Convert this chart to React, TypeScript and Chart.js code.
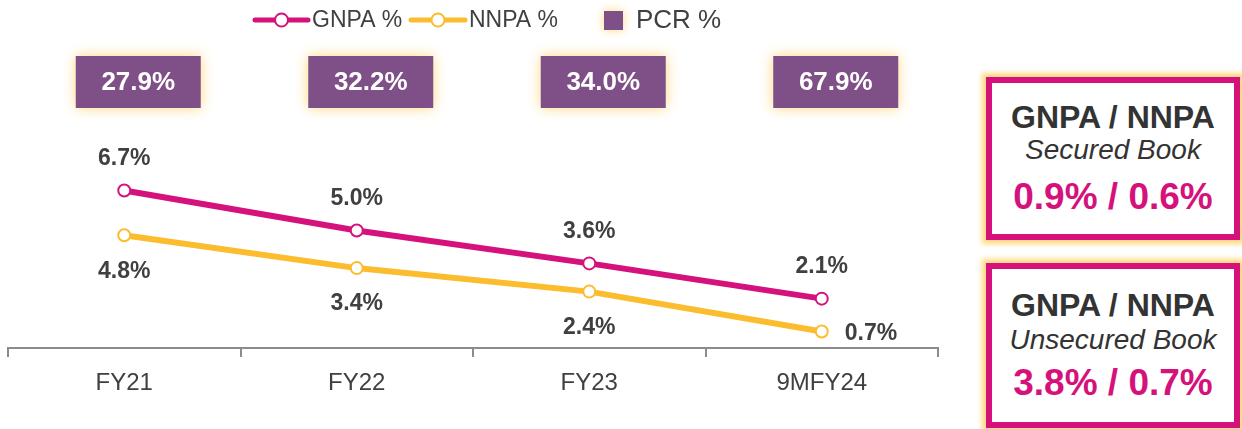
import React, { useEffect, useRef } from 'react';
import { Chart, registerables } from 'chart.js';

Chart.register(...registerables);

// ---- data ----
const categories = ['FY21', 'FY22', 'FY23', '9MFY24'];
const gnpa = [6.7, 5.0, 3.6, 2.1];
const nnpa = [4.8, 3.4, 2.4, 0.7];
const pcr = [27.9, 32.2, 34.0, 67.9];
const seriesNames = ['GNPA %', 'NNPA %', 'PCR %'];
const securedBook = [0.9, 0.6];
const unsecuredBook = [3.8, 0.7];

// ---- styles ----
const MAGENTA = '#D5127B';
const GOLD = '#FBBC2E';
const PURPLE = '#7F5087';
const GLOW = 'rgba(255, 214, 120, 0.95)';
const TEXT = '#404040';
const NARROW = '"Liberation Sans Narrow", "Liberation Sans", Arial, sans-serif';
const ARIAL = '"Liberation Sans", Arial, sans-serif';
const nnpaLabelPlacement = ['below', 'below', 'below', 'right'];

const pct = (v: number) => v.toFixed(1) + '%';

const labelPlugin = {
  id: 'pointLabels',
  afterDatasetsDraw(chart: any) {
    const ctx = chart.ctx;
    ctx.save();
    ctx.fillStyle = TEXT;
    ctx.font = `bold 23px ${NARROW}`;
    ctx.textBaseline = 'middle';
    const m0 = chart.getDatasetMeta(0);
    m0.data.forEach((pt: any, i: number) => {
      ctx.textAlign = 'center';
      ctx.fillText(pct(gnpa[i]), pt.x, pt.y - 32);
    });
    const m1 = chart.getDatasetMeta(1);
    m1.data.forEach((pt: any, i: number) => {
      if (nnpaLabelPlacement[i] === 'right') {
        ctx.textAlign = 'left';
        ctx.fillText(pct(nnpa[i]), pt.x + 23, pt.y + 2);
      } else {
        ctx.textAlign = 'center';
        ctx.fillText(pct(nnpa[i]), pt.x, pt.y + 36);
      }
    });
    ctx.restore();
  },
};

const pcrPlugin = {
  id: 'pcrBoxes',
  afterDraw(chart: any) {
    const ctx = chart.ctx;
    const xs = chart.scales.x;
    ctx.save();
    pcr.forEach((v, i) => {
      const cx = xs.getPixelForValue(i) + 14;
      const cy = 82;
      const w = 125;
      const h = 52;
      ctx.shadowColor = GLOW;
      ctx.shadowBlur = 12;
      ctx.fillStyle = PURPLE;
      ctx.fillRect(cx - w / 2, cy - h / 2, w, h);
      ctx.shadowBlur = 0;
      ctx.shadowColor = 'transparent';
      ctx.fillStyle = '#ffffff';
      ctx.font = `bold 26px ${ARIAL}`;
      ctx.textAlign = 'center';
      ctx.textBaseline = 'middle';
      ctx.fillText(pct(v), cx, cy + 1);
    });
    ctx.restore();
  },
};

const legendPlugin = {
  id: 'customLegend',
  afterDraw(chart: any) {
    const ctx = chart.ctx;
    ctx.save();
    const y = 20;
    const lineItem = (x0: number, x1: number, color: string, text: string) => {
      ctx.strokeStyle = color;
      ctx.lineWidth = 5;
      ctx.lineCap = 'round';
      ctx.beginPath();
      ctx.moveTo(x0, y);
      ctx.lineTo(x1, y);
      ctx.stroke();
      ctx.beginPath();
      ctx.arc((x0 + x1) / 2, y, 6.5, 0, Math.PI * 2);
      ctx.fillStyle = '#ffffff';
      ctx.fill();
      ctx.lineWidth = 2;
      ctx.stroke();
      ctx.fillStyle = TEXT;
      ctx.font = `23px ${ARIAL}`;
      ctx.textAlign = 'left';
      ctx.textBaseline = 'middle';
      ctx.fillText(text, x1 + 4, y + 1);
    };
    lineItem(255, 308, MAGENTA, seriesNames[0]);
    lineItem(411, 465, GOLD, seriesNames[1]);
    ctx.shadowColor = GLOW;
    ctx.shadowBlur = 10;
    ctx.fillStyle = PURPLE;
    ctx.fillRect(604, 11, 19, 19);
    ctx.shadowBlur = 0;
    ctx.shadowColor = 'transparent';
    ctx.fillStyle = TEXT;
    ctx.font = `26px ${ARIAL}`;
    ctx.textAlign = 'left';
    ctx.textBaseline = 'middle';
    ctx.fillText(seriesNames[2], 636, y + 1);
    ctx.restore();
  },
};

function InfoBox(props: { top: number; height: number; subtitle: string; values: number[]; offsets: number[] }) {
  const { top, height, subtitle, values, offsets } = props;
  const line = (c: number, lh: number): React.CSSProperties => ({
    position: 'absolute',
    left: -10,
    right: -10,
    top: c - lh / 2,
    height: lh,
    lineHeight: lh + 'px',
    textAlign: 'center',
    whiteSpace: 'nowrap',
  });
  return (
    <div
      style={{
        position: 'absolute',
        left: 986,
        top,
        width: 254,
        height,
        boxSizing: 'border-box',
        border: `6px solid ${MAGENTA}`,
        background: '#ffffff',
        boxShadow: `0 0 5px 4px ${GLOW}`,
        fontFamily: ARIAL,
      }}
    >
      <div style={{ ...line(offsets[0], 38), fontWeight: 'bold', fontSize: 32, color: '#333333' }}>GNPA / NNPA</div>
      <div style={{ ...line(offsets[1], 34), fontStyle: 'italic', fontSize: 28, color: '#333333' }}>{subtitle}</div>
      <div style={{ ...line(offsets[2], 42), fontWeight: 'bold', fontSize: 37, color: MAGENTA }}>
        {pct(values[0])} / {pct(values[1])}
      </div>
    </div>
  );
}

export default function App() {
  const ref = useRef<HTMLCanvasElement | null>(null);

  useEffect(() => {
    if (!ref.current) return;
    const chart = new Chart(ref.current, {
      type: 'line',
      data: {
        labels: categories,
        datasets: [
          {
            label: seriesNames[0],
            data: gnpa,
            borderColor: MAGENTA,
            borderWidth: 6,
            pointRadius: 6,
            pointBackgroundColor: '#ffffff',
            pointBorderColor: MAGENTA,
            pointBorderWidth: 2,
            tension: 0,
          },
          {
            label: seriesNames[1],
            data: nnpa,
            borderColor: GOLD,
            borderWidth: 6,
            pointRadius: 6,
            pointBackgroundColor: '#ffffff',
            pointBorderColor: GOLD,
            pointBorderWidth: 2,
            tension: 0,
          },
        ],
      },
      options: {
        animation: false,
        responsive: false,
        layout: { padding: { top: 66, left: 8, right: 22, bottom: 0 } },
        plugins: { legend: { display: false }, tooltip: { enabled: false } },
        scales: {
          x: {
            offset: true,
            grid: {
              offset: true,
              drawOnChartArea: false,
              drawTicks: true,
              tickLength: 9,
              color: '#8c8c8c',
              lineWidth: 2,
            },
            border: { display: true, color: '#8c8c8c', width: 2 },
            ticks: { color: TEXT, font: { family: NARROW, size: 24 }, padding: 12 },
            afterFit: (s: any) => {
              s.height = 81;
            },
          },
          y: { display: false, min: 0, max: 12 },
        },
      },
      plugins: [labelPlugin, pcrPlugin, legendPlugin],
    });
    return () => chart.destroy();
  }, []);

  return (
    <div style={{ position: 'absolute', left: 0, top: 0, width: 1242, height: 429, background: '#ffffff', overflow: 'hidden' }}>
      <canvas ref={ref} width={960} height={429} style={{ position: 'absolute', left: 0, top: 0 }} />
      <InfoBox top={77} height={163} subtitle="Secured Book" values={securedBook} offsets={[34, 67, 114]} />
      <InfoBox top={263} height={165} subtitle="Unsecured Book" values={unsecuredBook} offsets={[36, 71, 114]} />
    </div>
  );
}
